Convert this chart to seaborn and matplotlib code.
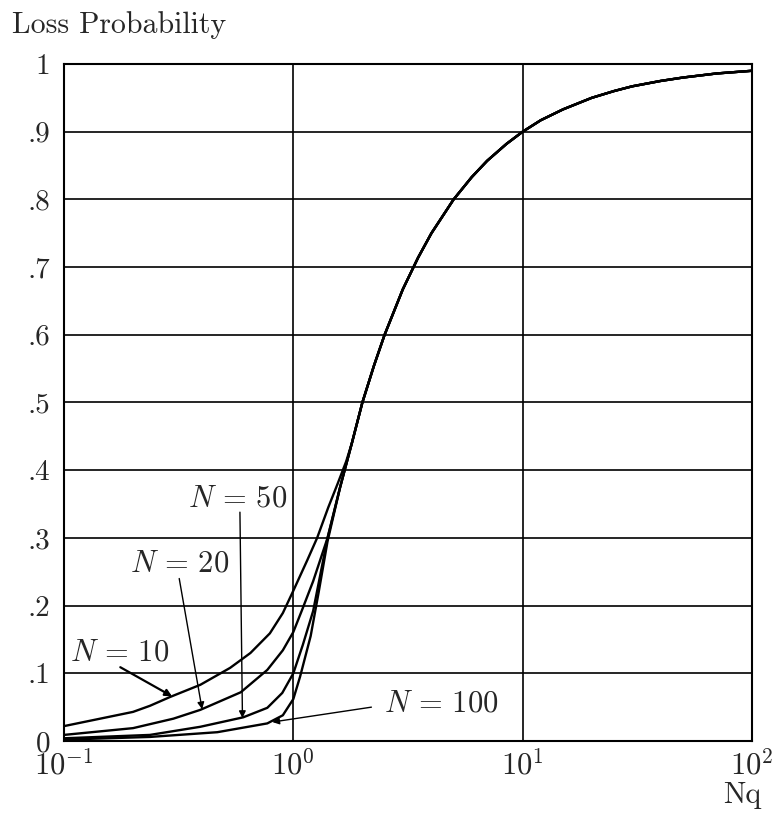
import matplotlib
matplotlib.use("Agg")
import matplotlib.pyplot as plt
import seaborn as sns
import pandas as pd

# ---- data ----
tail_x = [1.8, 2.0, 2.25, 2.5, 3.0, 3.5, 4.0, 5.0, 6.0, 7.0, 8.5, 10.0, 12.0, 15.0,
          20.0, 25.0, 30.0, 40.0, 50.0, 70.0, 100.0]
tail_y = [0.44, 0.50, 0.555, 0.60, 0.667, 0.714, 0.75, 0.80, 0.833, 0.857, 0.882, 0.90,
          0.917, 0.933, 0.95, 0.96, 0.967, 0.975, 0.98, 0.986, 0.99]

n10_x = [0.1, 0.2, 0.237, 0.29, 0.393, 0.53, 0.65, 0.79, 0.9, 1.0, 1.15, 1.27, 1.42,
         1.56, 1.7]
n10_y = [0.022, 0.043, 0.052, 0.065, 0.083, 0.108, 0.130, 0.159, 0.189, 0.222, 0.267,
         0.30, 0.345, 0.38, 0.413]

n20_x = [0.1, 0.2, 0.3, 0.393, 0.59, 0.77, 0.9, 1.0, 1.09, 1.22, 1.41, 1.6]
n20_y = [0.009, 0.019, 0.033, 0.046, 0.072, 0.105, 0.134, 0.161, 0.193, 0.236, 0.30,
         0.375]

n50_x = [0.1, 0.237, 0.393, 0.605, 0.77, 0.895, 1.0, 1.1, 1.22, 1.41, 1.6]
n50_y = [0.004, 0.009, 0.021, 0.035, 0.049, 0.071, 0.10, 0.142, 0.192, 0.30, 0.375]

n100_x = [0.1, 0.237, 0.466, 0.77, 0.9, 1.0, 1.07, 1.19, 1.29, 1.41, 1.6]
n100_y = [0.002, 0.006, 0.013, 0.026, 0.038, 0.062, 0.095, 0.155, 0.22, 0.295, 0.375]

y_ticks = [0, 0.1, 0.2, 0.3, 0.4, 0.5, 0.6, 0.7, 0.8, 0.9, 1.0]
y_labels = ["0", ".1", ".2", ".3", ".4", ".5", ".6", ".7", ".8", ".9", "1"]
x_ticks = [0.1, 1, 10, 100]
x_labels = [r"$10^{-1}$", r"$10^{0}$", r"$10^{1}$", r"$10^{2}$"]

curves = {"N = 10": (n10_x, n10_y), "N = 20": (n20_x, n20_y),
          "N = 50": (n50_x, n50_y), "N = 100": (n100_x, n100_y)}

sns.set_style("white")
plt.rcParams["mathtext.fontset"] = "cm"
plt.rcParams["axes.formatter.use_mathtext"] = True
SERIF = ["cmr10", "DejaVu Serif"]

fig = plt.figure(figsize=(7.75, 8.13), dpi=100)
ax = fig.add_axes([64/775, 1-741/813, (752-64)/775, (741-64)/813])

for name, (xs, ys) in curves.items():
    df = pd.DataFrame({"x": xs + tail_x, "y": ys + tail_y})
    sns.lineplot(data=df, x="x", y="y", ax=ax, color="black", lw=1.7,
                 sort=False, estimator=None)

ax.set_xscale("log")
ax.set_xlim(0.1, 100)
ax.set_ylim(0, 1)
ax.set_xticks(x_ticks)
ax.set_xticklabels(x_labels, fontsize=22)
ax.minorticks_off()
ax.set_yticks(y_ticks)
ax.set_yticklabels(y_labels, fontsize=21, family=SERIF)
ax.tick_params(axis="y", length=6, width=1.2, color="black", pad=4)
ax.tick_params(axis="x", length=0, pad=6)
ax.grid(True, color="black", lw=1.2)
for s in ax.spines.values():
    s.set_color("black")
    s.set_linewidth(1.5)
ax.set_xlabel("")
ax.set_ylabel("")

fig.text(12/775, 1-33/813, "Loss Probability", fontsize=21.5, family=SERIF,
         ha="left", va="baseline")
fig.text(742/775, 1-795/813, "Nq", fontsize=21.5, family=SERIF,
         ha="center", va="center")

arrow = dict(arrowstyle="-|>", color="black", lw=1.0, mutation_scale=10,
             shrinkA=0, shrinkB=0)
fs = 22
ax.text(0.57, 0.359, r"$N\,=\,50$", fontsize=fs, ha="center", va="center")
ax.annotate("", xy=(0.60, 0.034), xytext=(0.585, 0.338), arrowprops=arrow)
ax.text(0.32, 0.263, r"$N\,=\,20$", fontsize=fs, ha="center", va="center")
ax.annotate("", xy=(0.40, 0.047), xytext=(0.318, 0.240), arrowprops=arrow)
ax.text(0.175, 0.131, r"$N\,=\,10$", fontsize=fs, ha="center", va="center")
ax.annotate("", xy=(0.296, 0.066), xytext=(0.176, 0.109),
            arrowprops=dict(arrow, lw=1.6))
ax.text(4.4, 0.056, r"$N\,=\,100$", fontsize=fs, ha="center", va="center")
ax.annotate("", xy=(0.81, 0.028), xytext=(2.19, 0.050), arrowprops=arrow)

fig.savefig("out.png", dpi=100, facecolor="white")
